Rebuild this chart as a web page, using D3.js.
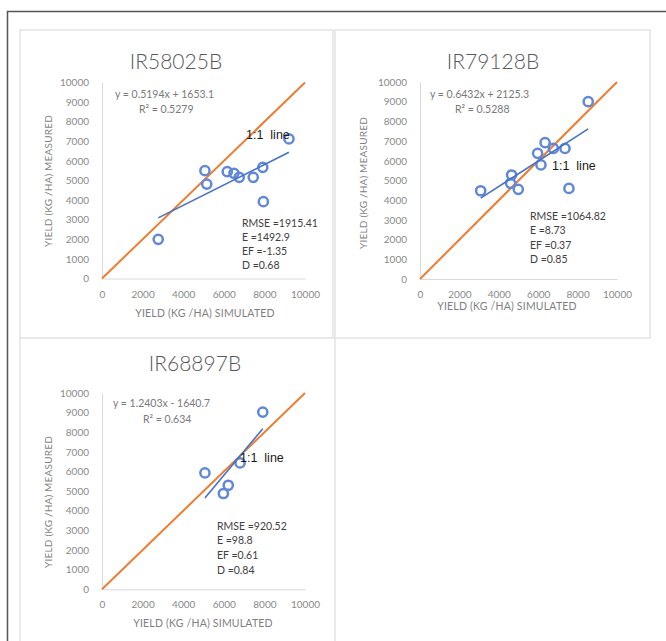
<!DOCTYPE html>
<html>
<head>
<meta charset="utf-8">
<script src="https://cdn.jsdelivr.net/npm/d3@7"></script>
<style>
  html, body { margin: 0; padding: 0; background: #fff; }
  svg { display: block; }
  text { font-family: Lato, "Open Sans", "Liberation Sans", sans-serif; }
</style>
</head>
<body>
<svg id="chart" width="666" height="641"></svg>
<script>
// Cultivar names
const cultivars = ["IR58025B", "IR79128B", "IR68897B"];

// Simulated vs measured grain yield (kg/ha) for each cultivar
const simIR58025B  = [2770, 5070, 5160, 6170, 6500, 6760, 7450, 7920, 7950, 9210];
const measIR58025B = [2000, 5500, 4820, 5450, 5370, 5160, 5160, 5670, 3920, 7120];

const simIR79128B  = [3080, 4650, 4600, 4990, 5970, 6350, 6140, 6770, 7360, 7560, 8540];
const measIR79128B = [4480, 5280, 4860, 4550, 6380, 6920, 5790, 6630, 6630, 4600, 9000];

const simIR68897B  = [5070, 5980, 6220, 6800, 7920];
const measIR68897B = [5930, 4880, 5300, 6440, 9030];

// Linear fit of measured on simulated: slope, intercept, R²
const fitSlope     = [0.5194, 0.6432, 1.2403];
const fitIntercept = [1653.1, 2125.3, -1640.7];
const fitR2        = ["0.5279", "0.5288", "0.634"];

// Goodness-of-fit statistics
const statRMSE = ["1915.41", "1064.82", "920.52"];
const statE    = ["1492.9", "8.73", "98.8"];
const statEF   = ["-1.35", "0.37", "0.61"];
const statD    = ["0.68", "0.85", "0.84"];

// Axis ticks
const axisTicks = [0, 2000, 4000, 6000, 8000, 10000];
const axisMax = 10000;

const svg = d3.select("#chart");

// Outer frame
svg.append("rect")
  .attr("x", 7.5).attr("y", 11.5).attr("width", 700).attr("height", 700)
  .attr("fill", "none").attr("stroke", "#555").attr("stroke-width", 1.5);

// Panel layout (chart boxes, plot areas and label anchors)
const layout = [
  { box: [20, 30, 313, 308], px: [102, 305], py: [278.5, 82.5],
    title: [176, 69], eq: [115, 97.5], r2: [139, 112.5], one: [246, 139],
    stats: [242, 227, 14], ytitle: [48, 181], xtitle: [205, 316.5] },
  { box: [335, 30, 315, 308], px: [420, 617], py: [279, 82],
    title: [493, 69], eq: [430, 97.5], r2: [455, 112.5], one: [552, 170],
    stats: [530, 219.5, 14.5], ytitle: [363, 183], xtitle: [507, 309.5] },
  { box: [20, 338, 315, 320], px: [102, 305], py: [589.3, 393],
    title: [195, 371], eq: [113, 406.5], r2: [143, 422.5], one: [240, 461.5],
    stats: [217, 529.5, 14.7], ytitle: [48, 502], xtitle: [203, 627] }
];

const simSets  = [simIR58025B, simIR79128B, simIR68897B];
const measSets = [measIR58025B, measIR79128B, measIR68897B];

const fmtEq = (m, b) => `y = ${m.toFixed(4)}x ${b < 0 ? "-" : "+"} ${Math.abs(b).toFixed(1)}`;

layout.forEach((L, i) => {
  const g = svg.append("g");

  g.append("rect")
    .attr("x", L.box[0]).attr("y", L.box[1])
    .attr("width", L.box[2]).attr("height", L.box[3])
    .attr("fill", "#fff").attr("stroke", "#e3e3e3").attr("stroke-width", 1.5);

  const x = d3.scaleLinear().domain([0, axisMax]).range(L.px);
  const y = d3.scaleLinear().domain([0, axisMax]).range(L.py);

  // Axes
  const xAxis = g.append("g").attr("transform", `translate(0,${L.py[0]})`)
    .call(d3.axisBottom(x).tickValues(axisTicks).tickSize(0).tickPadding(12).tickFormat(d3.format("d")));
  const yAxis = g.append("g").attr("transform", `translate(${L.px[0]},0)`)
    .call(d3.axisLeft(y).tickValues(d3.range(0, axisMax + 1, 1000)).tickSize(0).tickPadding(13).tickFormat(d3.format("d")));
  [xAxis, yAxis].forEach(a => {
    a.select(".domain").attr("stroke", "#d9d9d9").attr("stroke-width", 1);
    a.selectAll("text").attr("fill", "#8a8a8a").style("font-size", "10px")
      .style("font-family", "Lato, 'Open Sans', sans-serif");
  });

  // Title
  g.append("text").attr("x", L.title[0]).attr("y", L.title[1])
    .attr("text-anchor", "middle").attr("fill", "#595959")
    .style("font-size", "21px").style("font-weight", 300)
    .text(cultivars[i]);

  // Axis titles
  g.append("text").attr("x", L.xtitle[0]).attr("y", L.xtitle[1])
    .attr("text-anchor", "middle").attr("fill", "#7f7f7f")
    .style("font-size", "10.5px").style("letter-spacing", "0.2px")
    .text("YIELD (KG /HA) SIMULATED");
  g.append("text")
    .attr("transform", `translate(${L.ytitle[0]},${L.ytitle[1]}) rotate(-90)`)
    .attr("text-anchor", "middle").attr("dy", "0.35em").attr("fill", "#7f7f7f")
    .style("font-size", "10px").style("letter-spacing", "0.2px")
    .text("YIELD  (KG /HA) MEASURED");

  // 1:1 line
  g.append("line")
    .attr("x1", x(0)).attr("y1", y(0)).attr("x2", x(axisMax)).attr("y2", y(axisMax))
    .attr("stroke", "#ed7d31").attr("stroke-width", 2);

  // Observations
  const sim = simSets[i], meas = measSets[i];
  g.selectAll("circle.obs").data(sim.map((s, k) => [s, meas[k]])).join("circle")
    .attr("class", "obs")
    .attr("cx", d => x(d[0])).attr("cy", d => y(d[1])).attr("r", 4.6)
    .attr("fill", "none").attr("stroke", "#6188d8").attr("stroke-width", 2.5);

  // Fitted trend line over the range of simulated values
  const [xmin, xmax] = d3.extent(sim);
  const f = v => fitSlope[i] * v + fitIntercept[i];
  g.append("line")
    .attr("x1", x(xmin)).attr("y1", y(f(xmin))).attr("x2", x(xmax)).attr("y2", y(f(xmax)))
    .attr("stroke", "#4472c4").attr("stroke-width", 1.6);

  // Regression equation and R²
  g.append("text").attr("x", L.eq[0]).attr("y", L.eq[1]).attr("fill", "#7a7a7a")
    .style("font-size", "10.5px").text(fmtEq(fitSlope[i], fitIntercept[i]));
  g.append("text").attr("x", L.r2[0]).attr("y", L.r2[1]).attr("fill", "#7a7a7a")
    .style("font-size", "10.5px").text(`R² = ${fitR2[i]}`);

  // 1:1 line label
  g.append("text").attr("x", L.one[0]).attr("y", L.one[1]).attr("fill", "#1a1a1a")
    .style("font-size", "12.5px").style("white-space", "pre")
    .style("font-family", "'Liberation Sans', Arial, sans-serif")
    .text("1:1  line");

  // Statistics block
  const lines = [`RMSE =${statRMSE[i]}`, `E =${statE[i]}`, `EF =${statEF[i]}`, `D =${statD[i]}`];
  g.selectAll("text.stat").data(lines).join("text")
    .attr("class", "stat")
    .attr("x", L.stats[0]).attr("y", (d, k) => L.stats[1] + k * L.stats[2])
    .attr("fill", "#404040").style("font-size", "10.5px")
    .text(d => d);
});
</script>
</body>
</html>
